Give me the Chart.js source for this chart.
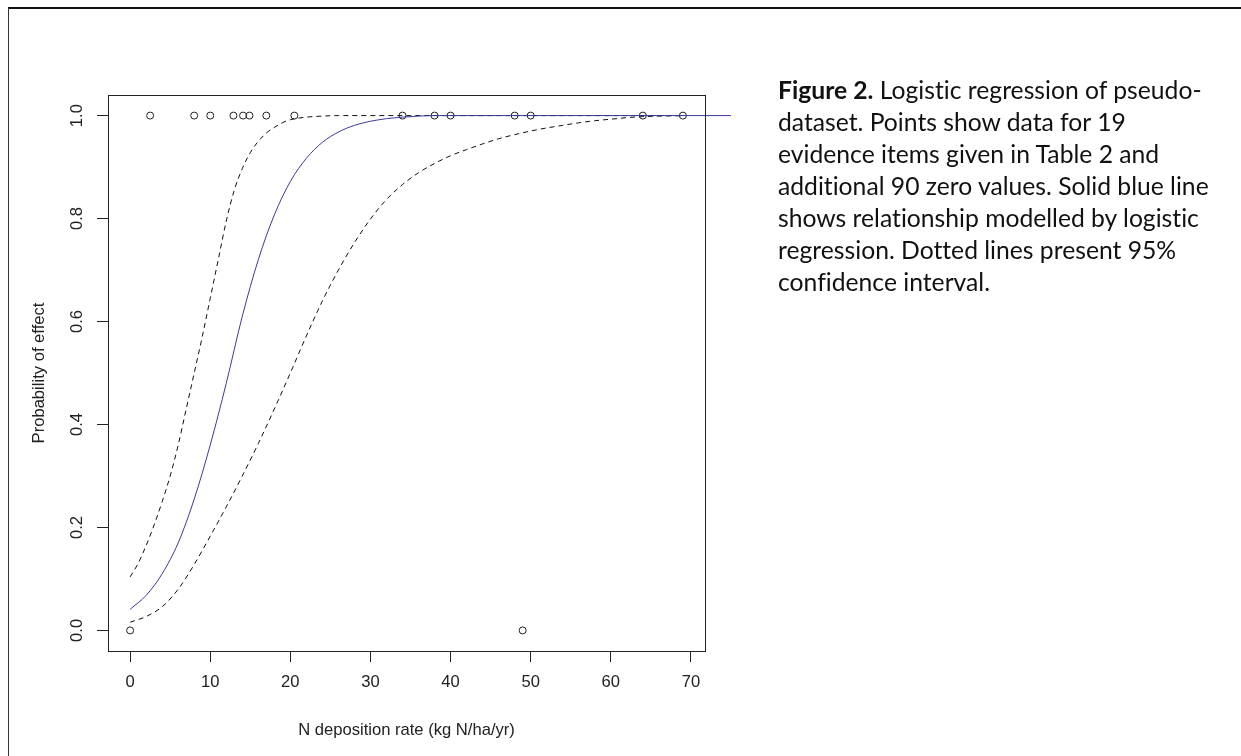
<!DOCTYPE html>
<html>
<head>
<meta charset="utf-8">
<script src="https://cdn.jsdelivr.net/npm/chart.js@4.4.1/dist/chart.umd.min.js"></script>
<style>
  html, body { margin: 0; padding: 0; background: #fff; }
  #wrap { position: relative; width: 1241px; height: 756px; overflow: hidden; background: #fff; }
  #chart { position: absolute; left: 0; top: 0; }
  #cap { position: absolute; left: 778px; top: 74px; font-family: Lato, "Open Sans", sans-serif;
         font-size: 24.7px; line-height: 32px; color: #111; white-space: nowrap;
         font-variant-ligatures: none; }
  #cap b { font-weight: 700; }
</style>
</head>
<body>
<div id="wrap">
  <canvas id="chart" width="1241" height="756"></canvas>
  <div id="cap"><b>Figure 2.</b> Logistic regression of pseudo-<br>dataset. Points show data for 19<br>evidence items given in Table 2 and<br>additional 90 zero values. Solid blue line<br>shows relationship modelled by logistic<br>regression. Dotted lines present 95%<br>confidence interval.</div>
</div>
<script>
// ---- data ----
const xTicks = [0, 10, 20, 30, 40, 50, 60, 70];
const yTicks = [0, 0.2, 0.4, 0.6, 0.8, 1.0];

const pointsOneX = [2.5, 8, 10, 12.9, 14.1, 14.9, 17, 20.5, 34, 38, 40, 48, 50, 64, 69];
const pointsZeroX = [0, 49];

const fitX = [0, 2, 4, 6, 8, 10, 12, 14, 16, 18, 20, 22, 24, 26, 28, 30, 32, 34, 36, 38, 45, 55, 65, 75];
const fitY = [0.041, 0.068, 0.11, 0.17, 0.255, 0.36, 0.48, 0.61, 0.72, 0.807, 0.872, 0.917, 0.948, 0.968, 0.981, 0.989, 0.994, 0.997, 0.999, 1, 1, 1, 1, 1];

const upperX = [0, 1, 2, 3, 4, 5, 6, 7, 8, 9, 10, 11, 12, 13, 14, 15, 16, 17, 18, 19, 20, 22, 24, 26, 35, 45, 55, 69];
const upperY = [0.104, 0.13, 0.165, 0.205, 0.25, 0.30, 0.36, 0.43, 0.50, 0.57, 0.645, 0.72, 0.795, 0.855, 0.897, 0.928, 0.95, 0.966, 0.977, 0.986, 0.992, 0.997, 0.999, 1, 1, 1, 1, 1];

const lowerX = [0, 2, 4, 6, 8, 10, 12, 14, 16, 18, 20, 22, 24, 26, 28, 30, 32, 34, 36, 38, 40, 42, 44, 46, 48, 50, 52, 54, 56, 58, 60, 62, 64, 66, 69];
const lowerY = [0.016, 0.027, 0.046, 0.08, 0.128, 0.183, 0.24, 0.30, 0.363, 0.43, 0.50, 0.572, 0.64, 0.70, 0.753, 0.799, 0.837, 0.866, 0.889, 0.907, 0.922, 0.934, 0.945, 0.955, 0.963, 0.970, 0.976, 0.981, 0.986, 0.990, 0.993, 0.996, 0.998, 0.999, 1];

const xTitle = 'N deposition rate (kg N/ha/yr)';
const yTitle = 'Probability of effect';

// ---- build ----
const pairs = (xs, ys) => xs.map((x, i) => ({ x: x, y: ys[i] }));
const pts = pointsOneX.map(x => ({ x: x, y: 1 })).concat(pointsZeroX.map(x => ({ x: x, y: 0 })));

const rFont = { family: '"Liberation Sans", Arial, sans-serif', size: 16.6 };
const ink = '#222';

const framePlugin = {
  id: 'frame',
  beforeDraw(chart) {
    const c = chart.ctx;
    c.save();
    c.fillStyle = '#fff';
    c.fillRect(0, 0, chart.width, chart.height);
    c.strokeStyle = '#111';
    c.lineWidth = 2;
    c.beginPath();
    c.moveTo(8, 8); c.lineTo(chart.width, 8);
    c.stroke();
    c.lineWidth = 1;
    c.strokeStyle = '#333';
    c.beginPath();
    c.moveTo(8.5, 8); c.lineTo(8.5, chart.height);
    c.stroke();
    c.restore();
  },
  afterDraw(chart) {
    const a = chart.chartArea, c = chart.ctx;
    c.save();
    c.strokeStyle = ink;
    c.lineWidth = 1;
    c.strokeRect(Math.round(a.left) + 0.5, Math.round(a.top) + 0.5,
                 Math.round(a.right - a.left), Math.round(a.bottom - a.top));
    c.restore();
  }
};

new Chart(document.getElementById('chart'), {
  type: 'scatter',
  data: {
    datasets: [
      { data: pairs(fitX, fitY), showLine: true, borderColor: '#3a3a9e', borderWidth: 1,
        pointRadius: 0, cubicInterpolationMode: 'monotone', clip: false },
      { data: pairs(upperX, upperY), showLine: true, borderColor: '#111', borderWidth: 1,
        borderDash: [5, 4], pointRadius: 0, cubicInterpolationMode: 'monotone' },
      { data: pairs(lowerX, lowerY), showLine: true, borderColor: '#111', borderWidth: 1,
        borderDash: [5, 4], pointRadius: 0, cubicInterpolationMode: 'monotone' },
      { data: pts, showLine: false, pointRadius: 3.5, pointHoverRadius: 3.5,
        borderColor: '#222', backgroundColor: 'rgba(0,0,0,0)', borderWidth: 1 }
    ]
  },
  options: {
    responsive: false,
    animation: false,
    devicePixelRatio: 1,
    layout: { padding: { left: 0, top: 95, right: 536, bottom: 0 } },
    plugins: { legend: { display: false }, tooltip: { enabled: false } },
    scales: {
      x: {
        type: 'linear', min: -2.76, max: 71.76,
        afterBuildTicks: s => { s.ticks = xTicks.map(v => ({ value: v })); },
        afterFit: s => { s.height = 105; },
        grid: { display: true, drawOnChartArea: false, drawTicks: true, tickLength: 11, color: ink, lineWidth: 1 },
        border: { display: false },
        ticks: { font: rFont, color: ink, padding: 10, maxRotation: 0, autoSkip: false,
                 callback: v => String(v) },
        title: { display: true, text: xTitle, font: rFont, color: ink, padding: { top: 0, bottom: 16 } }
      },
      y: {
        type: 'linear', min: -0.04, max: 1.04,
        afterBuildTicks: s => { s.ticks = yTicks.map(v => ({ value: v })); },
        afterFit: s => { s.width = 108; },
        grid: { display: true, drawOnChartArea: false, drawTicks: true, tickLength: 11, color: ink, lineWidth: 1 },
        border: { display: false },
        ticks: { font: rFont, color: ink, padding: 8.5, minRotation: 90, maxRotation: 90,
                 crossAlign: 'center', autoSkip: false, callback: v => v.toFixed(1) },
        title: { display: true, text: yTitle, font: rFont, color: ink, padding: { top: 29, bottom: 0 } }
      }
    }
  },
  plugins: [framePlugin]
});
</script>
</body>
</html>
